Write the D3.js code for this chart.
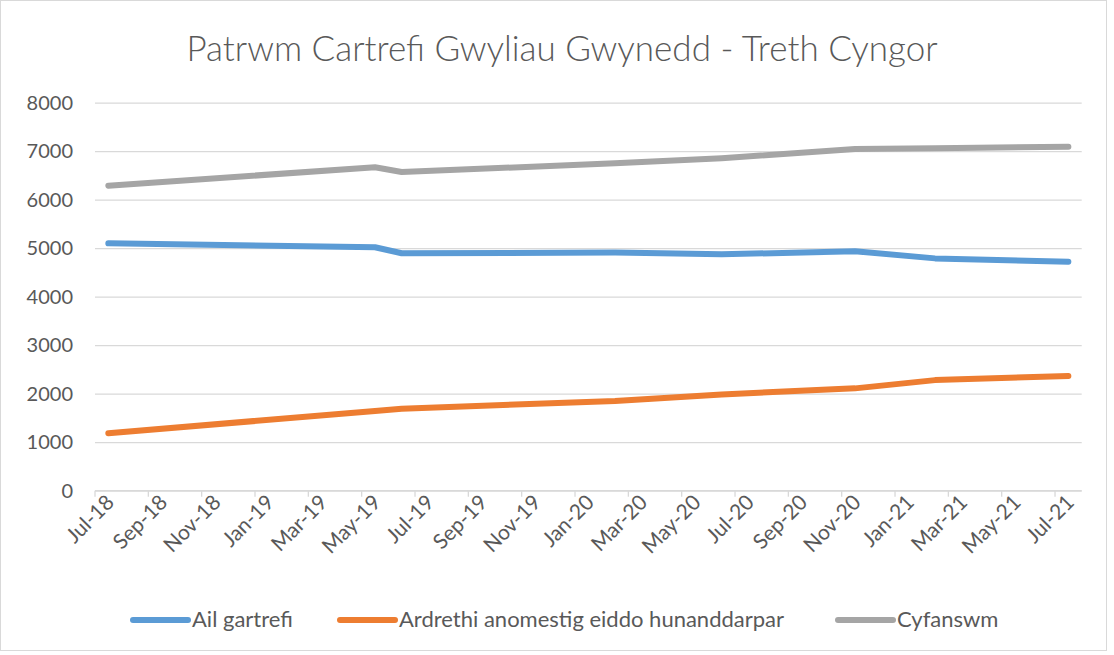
<!DOCTYPE html>
<html>
<head>
<meta charset="utf-8">
<script src="https://cdnjs.cloudflare.com/ajax/libs/d3/7.8.5/d3.min.js"></script>
<style>
  body { margin: 0; background: #fff; }
  text { font-family: Lato, "Open Sans", sans-serif; fill: #595959; }
</style>
</head>
<body>
<script>
// chart data
const months = ["2018-07", "2019-05", "2019-06", "2020-02", "2020-06", "2020-11", "2021-02", "2021-07"];
const ailGartrefi = [5100, 5020, 4895, 4910, 4875, 4935, 4790, 4720];
const ardrethi = [1185, 1645, 1690, 1850, 1985, 2110, 2280, 2365];
const cyfanswm = [6290, 6668, 6570, 6750, 6855, 7045, 7060, 7093];
const seriesNames = ["Ail gartrefi", "Ardrethi anomestig eiddo hunanddarpar", "Cyfanswm"];
const colors = ["#5B9BD5", "#ED7D31", "#A5A5A5"];
const yTicks = [0, 1000, 2000, 3000, 4000, 5000, 6000, 7000, 8000];
const title = "Patrwm Cartrefi Gwyliau Gwynedd - Treth Cyngor";

const W = 1114, H = 655;
const parse = d3.timeParse("%Y-%m");
const fmt = d3.timeFormat("%b-%y");

const svg = d3.select("body").append("svg")
    .attr("width", W)
    .attr("height", H);

svg.append("rect")
    .attr("x", 0.5).attr("y", 0.5)
    .attr("width", W - 8).attr("height", H - 5)
    .attr("fill", "#fff")
    .attr("stroke", "#D9D9D9");

// every month on the axis gets a slot
const allMonths = d3.timeMonth.range(parse("2018-07"), parse("2021-08"));
const x = d3.scaleBand()
    .domain(allMonths.map(fmt))
    .range([95, 1081.7]);
const bw = x.bandwidth();
const y = d3.scaleLinear()
    .domain([0, 8000])
    .range([490.7, 102.7]);

// gridlines + y labels
const yAxis = svg.append("g")
    .attr("transform", "translate(95,0)")
    .call(d3.axisLeft(y).tickValues(yTicks).tickFormat(d3.format("d"))
        .tickSize(-(1081.7 - 95)).tickPadding(22));
yAxis.select(".domain").remove();
yAxis.selectAll("line").attr("stroke", "#D9D9D9").attr("stroke-width", 1.3);
yAxis.selectAll("text").style("font-size", "20px").attr("fill", "#595959");

// x axis line and ticks
svg.append("line")
    .attr("x1", 95).attr("x2", 1081.7)
    .attr("y1", y(0)).attr("y2", y(0))
    .attr("stroke", "#D9D9D9").attr("stroke-width", 1.3);

const tickMonths = allMonths.filter((d, i) => i % 2 === 0);
svg.selectAll(".xtick")
    .data(tickMonths)
    .join("line")
    .attr("class", "xtick")
    .attr("x1", d => x(fmt(d))).attr("x2", d => x(fmt(d)))
    .attr("y1", y(0)).attr("y2", y(0) + 6)
    .attr("stroke", "#D9D9D9").attr("stroke-width", 1.3);

svg.selectAll(".xlab")
    .data(tickMonths)
    .join("text")
    .attr("class", "xlab")
    .attr("text-anchor", "end")
    .style("font-size", "21px")
    .attr("transform", d => `translate(${x(fmt(d)) + bw / 2 + 7},${y(0) + 13}) rotate(-45)`)
    .text(d => fmt(d));

// lines
const seriesData = [ailGartrefi, ardrethi, cyfanswm];
const line = d3.line()
    .x(d => x(fmt(parse(d.m))) + bw / 2)
    .y(d => y(d.v));

seriesData.forEach((vals, k) => {
    const pts = months.map((m, i) => ({ m: m, v: vals[i] }));
    svg.append("path")
        .datum(pts)
        .attr("fill", "none")
        .attr("stroke", colors[k])
        .attr("stroke-width", 6)
        .attr("stroke-linecap", "round")
        .attr("stroke-linejoin", "round")
        .attr("d", line);
});

// title
svg.append("text")
    .attr("x", 562).attr("y", 61)
    .attr("text-anchor", "middle")
    .style("font-size", "35px")
    .style("font-weight", 300)
    .text(title);

// legend
const legX = [133, 340, 838];
seriesNames.forEach((name, k) => {
    svg.append("line")
        .attr("x1", legX[k]).attr("x2", legX[k] + 55)
        .attr("y1", 620).attr("y2", 620)
        .attr("stroke", colors[k])
        .attr("stroke-width", 6)
        .attr("stroke-linecap", "round");
    svg.append("text")
        .attr("x", legX[k] + 59).attr("y", 627)
        .style("font-size", "22px")
        .text(name);
});
</script>
</body>
</html>
